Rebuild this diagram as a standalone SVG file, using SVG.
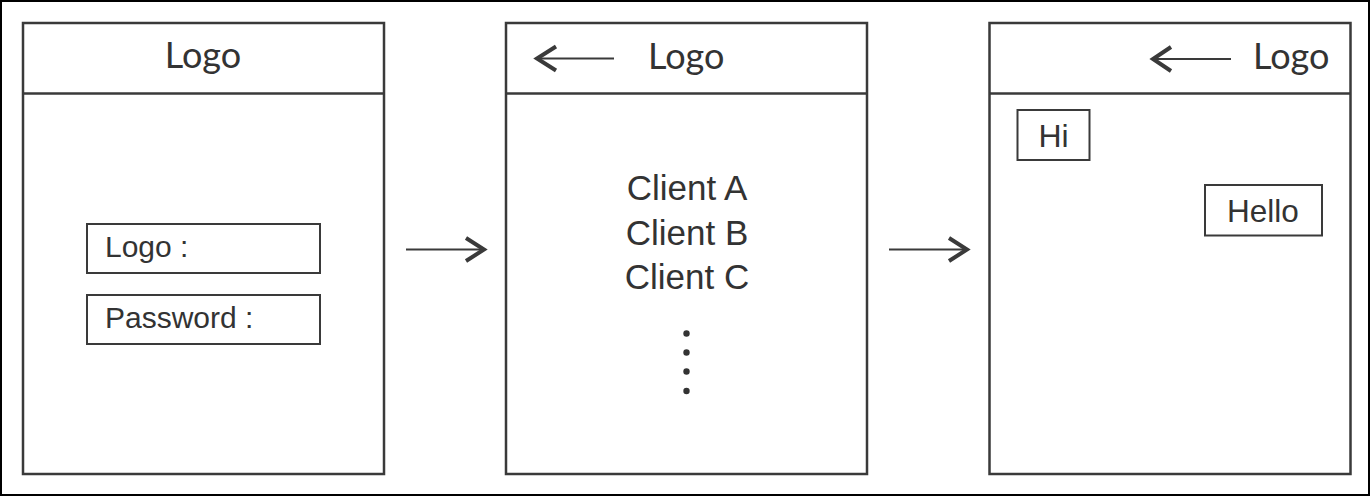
<svg xmlns="http://www.w3.org/2000/svg" width="1372" height="497" viewBox="0 0 1372 497">
<style>
.frame{fill:#fff;stroke:#3a3a3a;stroke-width:2.5}
.box{fill:#fff;stroke:#3a3a3a;stroke-width:2}
.div{stroke:#3a3a3a;stroke-width:2.5}
.title{font-family:Lato,"Open Sans",sans-serif;font-size:36px;fill:#333}
.lbl{font-family:"Liberation Sans",Arial,sans-serif;fill:#333}
.ln{stroke:#3a3a3a;stroke-width:2;fill:none}
.chev{stroke:#3a3a3a;stroke-width:4;fill:none;stroke-linecap:butt;stroke-linejoin:miter}
</style>
<rect x="1" y="1" width="1368" height="494" fill="#fff" stroke="#000" stroke-width="2"/>
<g id="screen-login">
<rect class="frame" x="23" y="23" width="361" height="451"/>
<line class="div" x1="23" y1="93.5" x2="384" y2="93.5"/>
<text class="title" x="203" y="68" text-anchor="middle">Logo</text>
<rect class="box" x="87" y="224" width="233" height="49"/>
<text class="lbl" x="105" y="257" font-size="30">Logo :</text>
<rect class="box" x="87" y="295" width="233" height="49"/>
<text class="lbl" x="105" y="328" font-size="30">Password :</text>
</g>
<g id="screen-clients">
<rect class="frame" x="506" y="23" width="361" height="451"/>
<line class="div" x1="506" y1="93.5" x2="867" y2="93.5"/>
<text class="title" x="648" y="69">Logo</text>
<line class="ln" x1="538" y1="58.5" x2="614" y2="58.5"/>
<polyline class="chev" points="556,46.5 537,58.5 556,70.5"/>
<text class="lbl" x="687" y="200" font-size="35" text-anchor="middle">Client A</text>
<text class="lbl" x="687" y="245" font-size="35" text-anchor="middle">Client B</text>
<text class="lbl" x="687" y="289" font-size="35" text-anchor="middle">Client C</text>
<circle cx="686.5" cy="333.5" r="3.2" fill="#333"/>
<circle cx="686.5" cy="352.5" r="3.2" fill="#333"/>
<circle cx="686.5" cy="371.5" r="3.2" fill="#333"/>
<circle cx="686.5" cy="391" r="3.2" fill="#333"/>
</g>
<g id="screen-chat">
<rect class="frame" x="989.5" y="23" width="361" height="451"/>
<line class="div" x1="989.5" y1="93.5" x2="1350.5" y2="93.5"/>
<text class="title" x="1253" y="69">Logo</text>
<line class="ln" x1="1154" y1="59" x2="1231" y2="59"/>
<polyline class="chev" points="1171,47 1153,59 1171,71"/>
<rect class="box" x="1017.5" y="110" width="72" height="50"/>
<text class="lbl" x="1053.5" y="146.5" font-size="32" text-anchor="middle">Hi</text>
<rect class="box" x="1205" y="185" width="117" height="50.5"/>
<text class="lbl" x="1263" y="221.5" font-size="31.5" text-anchor="middle">Hello</text>
</g>
<g id="connectors">
<line class="ln" x1="406" y1="249.5" x2="483" y2="249.5"/>
<polyline class="chev" points="466,238 484,249.5 466,261"/>
<line class="ln" x1="889" y1="249.5" x2="966" y2="249.5"/>
<polyline class="chev" points="949,238 967,249.5 949,261"/>
</g>
</svg>
